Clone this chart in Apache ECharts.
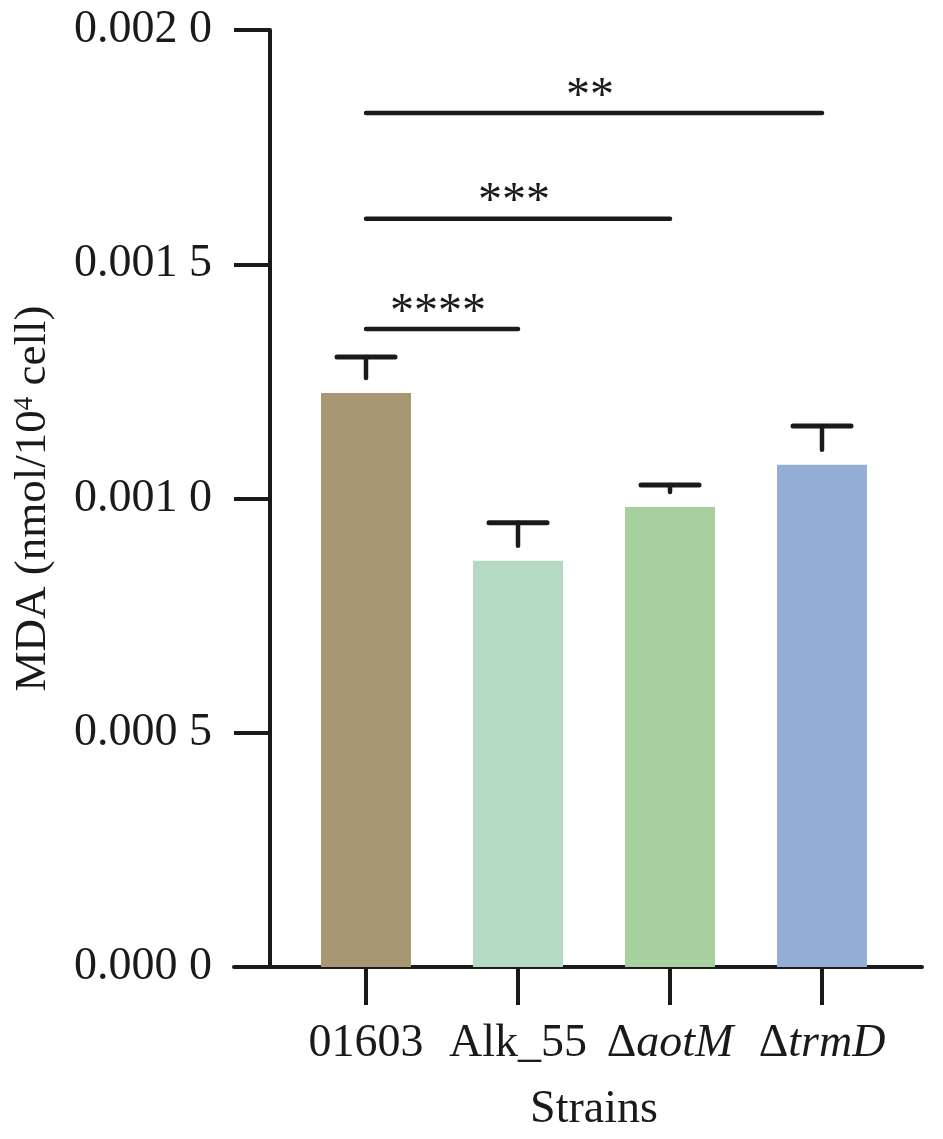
<!DOCTYPE html>
<html>
<head>
<meta charset="utf-8">
<script src="https://cdn.jsdelivr.net/npm/echarts@6/dist/echarts.min.js"></script>
<style>
html,body{margin:0;padding:0;background:#fff;}
#chart{width:943px;height:1139px;}
</style>
</head>
<body>
<div id="chart"></div>
<script>
// ---- data ----
var categories = ['01603', 'Alk_55', '\u0394aotM', '\u0394trmD'];
var meanValues = [0.001225, 0.000867, 0.000982, 0.001072];
var errorValues = [0.000077, 0.000081, 0.000047, 0.000083];
var barColors = ['#A79772', '#B4DAC3', '#A7D09E', '#95AED5'];
var yTicks = [0, 0.0005, 0.0010, 0.0015, 0.0020];
var sigStart = [0, 0, 0];
var sigEnd = [3, 2, 1];
var sigLevel = [0.001823, 0.001597, 0.001362];
var sigStars = ['**', '***', '****'];

var FONT = '"Liberation Serif", "Times New Roman", serif';
var INK = '#1a1a1a';

var chart = echarts.init(document.getElementById('chart'), null, {renderer: 'canvas'});

function fmtY(v) {
  var s = v.toFixed(4);
  return s.slice(0, 5) + ' ' + s.slice(5);
}
function fmtCat(v) {
  if (v.charAt(0) === '\u0394') return '{d|\u0394}{i|' + v.slice(1) + '}';
  return '{d|' + v + '}';
}

var barData = meanValues.map(function (v, i) {
  return {value: v, itemStyle: {color: barColors[i]}};
});
var errData = meanValues.map(function (v, i) { return [i, v, errorValues[i]]; });
var sigData = sigLevel.map(function (lv, i) { return [sigStart[i], sigEnd[i], lv, sigStars[i]]; });

var option = {
  animation: false,
  backgroundColor: '#fff',
  grid: [
    {left: 290, right: 45, top: 30, bottom: 172, containLabel: false},
    {left: 234, right: 21, top: 30, bottom: 172, containLabel: false}
  ],
  xAxis: [
    {
      type: 'category',
      gridIndex: 0,
      data: categories,
      boundaryGap: true,
      axisLine: {show: true, lineStyle: {color: INK, width: 4}},
      axisTick: {show: true, alignWithLabel: true, length: 38, lineStyle: {color: INK, width: 4}},
      axisLabel: {
        margin: 54,
        formatter: fmtCat,
        rich: {
          d: {fontFamily: FONT, fontSize: 46, color: INK},
          i: {fontFamily: FONT, fontSize: 46, color: INK, fontStyle: 'italic'}
        }
      },
      name: 'Strains',
      nameLocation: 'middle',
      nameGap: 120,
      nameTextStyle: {fontFamily: FONT, fontSize: 46, color: INK}
    },
    {
      type: 'value',
      gridIndex: 1,
      min: 0, max: 1,
      axisLine: {show: true, lineStyle: {color: INK, width: 4}},
      axisTick: {show: false},
      axisLabel: {show: false},
      splitLine: {show: false}
    }
  ],
  yAxis: [
    {
      type: 'value',
      gridIndex: 0,
      min: 0,
      max: 0.002,
      interval: 0.0005,
      offset: 20,
      axisLine: {show: true, lineStyle: {color: INK, width: 4}},
      axisTick: {show: true, length: 36, lineStyle: {color: INK, width: 4}},
      splitLine: {show: false},
      axisLabel: {
        margin: 58,
        formatter: fmtY,
        fontFamily: FONT,
        fontSize: 46,
        color: INK
      },
      name: '{a|MDA (nmol/10}{s|4}{a| cell)}',
      nameLocation: 'middle',
      nameGap: 214,
      nameRotate: 90,
      nameTextStyle: {
        rich: {
          a: {fontFamily: FONT, fontSize: 45, color: INK},
          s: {fontFamily: FONT, fontSize: 27, color: INK, verticalAlign: 'top', padding: [0, 0, 14, 0]}
        }
      }
    },
    {
      type: 'value',
      gridIndex: 1,
      min: 0, max: 1,
      show: false
    }
  ],
  series: [
    {
      type: 'bar',
      xAxisIndex: 0,
      yAxisIndex: 0,
      data: barData,
      barWidth: 90,
      z: 3
    },
    {
      type: 'custom',
      xAxisIndex: 0,
      yAxisIndex: 0,
      data: errData,
      z: 4,
      clip: false,
      renderItem: function (params, api) {
        var idx = api.value(0);
        var v = api.value(1);
        var e = api.value(2);
        var top = api.coord([idx, v + e]);
        var base = api.coord([idx, v]);
        var bottomY = Math.max(base[1] - 15, top[1] + 6);
        return {
          type: 'group',
          children: [
            {type: 'line', shape: {x1: top[0] - 29, y1: top[1], x2: top[0] + 29, y2: top[1]},
             style: {stroke: INK, lineWidth: 5, lineCap: 'round'}},
            {type: 'line', shape: {x1: top[0], y1: top[1], x2: top[0], y2: bottomY},
             style: {stroke: INK, lineWidth: 4.5, lineCap: 'round'}}
          ]
        };
      }
    },
    {
      type: 'custom',
      xAxisIndex: 0,
      yAxisIndex: 0,
      data: sigData,
      z: 4,
      clip: false,
      renderItem: function (params, api) {
        var a = api.coord([api.value(0), api.value(2)]);
        var b = api.coord([api.value(1), api.value(2)]);
        var stars = sigData[params.dataIndex][3];
        return {
          type: 'group',
          children: [
            {type: 'line', shape: {x1: a[0], y1: a[1], x2: b[0], y2: b[1]},
             style: {stroke: INK, lineWidth: 4.5, lineCap: 'round'}},
            {type: 'text', x: (a[0] + b[0]) / 2 - 4, y: a[1] + 8,
             style: {text: stars, fontFamily: FONT, fontSize: 48, fill: INK,
                     align: 'center', verticalAlign: 'bottom'}}
          ]
        };
      }
    }
  ]
};
chart.setOption(option);
</script>
</body>
</html>
